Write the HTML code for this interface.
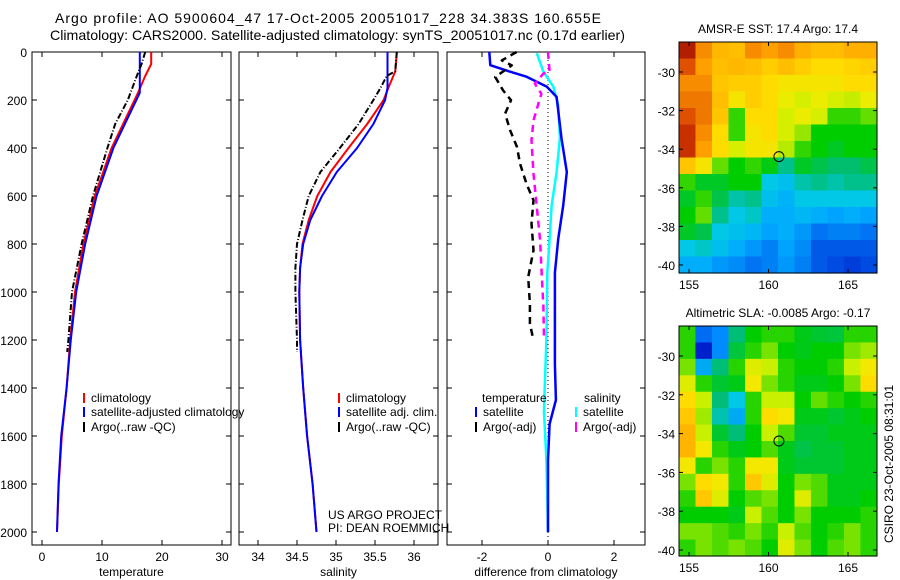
<!DOCTYPE html>
<html><head><meta charset="utf-8"><style>
body{margin:0;background:#fff;}
svg{display:block;font-family:"Liberation Sans",sans-serif;}
</style></head><body>
<svg id="fig" width="900" height="580" viewBox="0 0 900 580" xmlns="http://www.w3.org/2000/svg">
<text x="55" y="23" font-size="14" textLength="546" lengthAdjust="spacing">Argo profile: AO 5900604_47 17-Oct-2005 20051017_228 34.383S 160.655E</text>
<text x="50" y="40" font-size="14" textLength="575" lengthAdjust="spacingAndGlyphs">Climatology: CARS2000. Satellite-adjusted climatology: synTS_20051017.nc (0.17d earlier)</text>
<g id="g"></g>
</svg>
<script>
// ---------- data ----------
const tDepth=[0,50,100,170,400,600,800,1000,1200,1400,1600,1800,2000];
const tClim=[18.2,18.2,17.2,16.0,11.6,8.8,6.9,5.5,4.7,4.1,3.3,2.8,2.5];
const tSat=[16.3,16.3,16.3,16.3,11.9,9.1,7.2,5.7,4.8,4.1,3.2,2.75,2.5];
const aDepth=[0,50,100,200,300,400,500,600,800,1000,1200,1250];
const tArgo=[17.2,16.6,15.8,14.3,12.2,10.9,9.7,8.5,6.6,5.0,4.4,4.2];
const sDepth=[0,80,150,200,300,400,500,600,700,800,900,1000,1200,1400,1600,1800,2000];
const sClim=[35.78,35.76,35.67,35.61,35.40,35.16,34.93,34.76,34.65,34.57,34.54,34.53,34.54,34.58,34.63,34.70,34.75];
const sSat=[35.66,35.66,35.66,35.63,35.48,35.27,35.01,34.82,34.67,34.58,34.54,34.53,34.54,34.58,34.63,34.70,34.75];
const sArgoDepth=[0,80,100,150,200,300,400,500,600,700,800,900,1000,1200,1250];
const sArgo=[35.78,35.76,35.65,35.57,35.48,35.29,35.05,34.80,34.65,34.57,34.50,34.48,34.48,34.50,34.50];
const dtSatDepth=[0,55,82,103,144,187,360,500,640,780,920,1060,1300,1450,1550,1700,2000];
const dtSat=[-1.78,-1.75,-1.15,-0.65,-0.04,0.26,0.41,0.57,0.46,0.31,0.21,0.21,0.21,0.24,0.05,0.0,0.0];
const dsSatDepth=[5,82,144,222,361,500,640,780,920,1200,1400,1500,1700,2000];
const dsSat=[-0.34,-0.14,0.16,0.31,0.36,0.26,0.11,0.05,-0.02,-0.05,-0.1,-0.12,-0.05,0.0];
const dtArgoDepth=[0,35,56,104,160,201,257,326,396,465,549,618,715,826,938,1049,1132,1201];
const dtArgo=[-0.95,-1.4,-1.1,-1.6,-1.36,-1.12,-1.3,-1.15,-0.94,-0.85,-0.65,-0.44,-0.5,-0.44,-0.6,-0.55,-0.55,-0.44];
const dsArgoDepth=[0,82,90,132,174,215,285,368,507,646,785,924,1063,1201];
const dsArgo=[0.0,0.05,-0.14,-0.4,-0.2,-0.29,-0.44,-0.5,-0.44,-0.34,-0.24,-0.19,-0.14,-0.12];
const depthTicks=[0,200,400,600,800,1000,1200,1400,1600,1800,2000];
const tTicks=[0,10,20,30];
const sTicks=[34,34.5,35,35.5,36];
const sTickLabels=["34","34.5","35","35.5","36"];
const dTicks=[-2,0,2];
const lonTicks=[155,160,165];
const latTicks=[-30,-32,-34,-36,-38,-40];
const sstGrid=[
[0.95,0.82,0.77,0.76,0.82,0.80,0.82,0.78,0.76,0.76,0.78,0.78],
[0.88,0.80,0.76,0.77,0.76,0.74,0.76,0.74,0.72,0.72,0.73,0.74],
[0.82,0.82,0.75,0.74,0.74,0.72,0.70,0.70,0.70,0.70,0.72,0.72],
[0.84,0.84,0.76,0.70,0.74,0.72,0.68,0.66,0.68,0.66,0.65,0.68],
[0.88,0.84,0.75,0.58,0.72,0.72,0.66,0.68,0.66,0.58,0.58,0.60],
[0.92,0.82,0.72,0.58,0.70,0.72,0.66,0.62,0.56,0.56,0.56,0.56],
[0.92,0.80,0.72,0.66,0.70,0.70,0.64,0.58,0.56,0.54,0.56,0.56],
[0.75,0.70,0.60,0.56,0.58,0.55,0.48,0.54,0.52,0.50,0.50,0.52],
[0.58,0.54,0.54,0.56,0.56,0.42,0.40,0.46,0.48,0.46,0.48,0.48],
[0.54,0.58,0.52,0.46,0.48,0.40,0.37,0.42,0.42,0.42,0.42,0.42],
[0.56,0.60,0.48,0.42,0.44,0.36,0.36,0.38,0.36,0.34,0.36,0.34],
[0.54,0.52,0.42,0.40,0.38,0.34,0.36,0.32,0.26,0.28,0.28,0.26],
[0.42,0.44,0.40,0.36,0.32,0.28,0.34,0.30,0.22,0.22,0.22,0.22],
[0.36,0.36,0.32,0.30,0.26,0.28,0.32,0.28,0.22,0.20,0.18,0.20]];
const slaGrid=[
[0.62,0.25,0.30,0.50,0.60,0.62,0.62,0.58,0.56,0.55,0.62,0.62],
[0.62,0.12,0.30,0.55,0.62,0.66,0.60,0.58,0.60,0.60,0.66,0.68],
[0.66,0.35,0.50,0.62,0.72,0.70,0.62,0.60,0.60,0.62,0.70,0.74],
[0.72,0.62,0.56,0.58,0.74,0.66,0.62,0.58,0.58,0.60,0.66,0.76],
[0.76,0.70,0.50,0.40,0.62,0.70,0.70,0.60,0.65,0.62,0.60,0.62],
[0.78,0.68,0.45,0.35,0.62,0.76,0.74,0.58,0.58,0.56,0.58,0.60],
[0.80,0.70,0.56,0.50,0.60,0.70,0.64,0.56,0.56,0.58,0.58,0.58],
[0.80,0.74,0.62,0.58,0.60,0.64,0.58,0.54,0.56,0.56,0.58,0.58],
[0.74,0.62,0.66,0.62,0.74,0.74,0.58,0.56,0.56,0.56,0.58,0.58],
[0.66,0.76,0.74,0.62,0.78,0.72,0.60,0.66,0.64,0.58,0.58,0.58],
[0.62,0.78,0.72,0.60,0.64,0.66,0.60,0.72,0.64,0.58,0.58,0.60],
[0.60,0.60,0.60,0.58,0.70,0.64,0.60,0.66,0.60,0.60,0.60,0.62],
[0.66,0.66,0.64,0.62,0.66,0.62,0.70,0.64,0.60,0.62,0.66,0.62],
[0.62,0.66,0.64,0.66,0.64,0.60,0.72,0.66,0.60,0.64,0.66,0.62]];
const floatLon=160.655, floatLat=-34.383;

// ---------- helpers ----------
const NS="http://www.w3.org/2000/svg";
const G=document.getElementById('g');
function mk(tag,attrs,parent){const e=document.createElementNS(NS,tag);for(const k in attrs)e.setAttribute(k,attrs[k]);(parent||G).appendChild(e);return e;}
function lin(d0,d1,r0,r1){return v=>r0+(v-d0)*(r1-r0)/(d1-d0);}
const yD=lin(0,2000,52,532);

function panel(name,x0,x1,xs,ticks,labels,xlabel,showY){
  const r=mk('rect',{x:x0,y:52,width:x1-x0,height:493,fill:'none',stroke:'#000','stroke-width':1});
  
  
  depthTicks.forEach(d=>{
    mk('line',{x1:x0,x2:x0+5,y1:yD(d),y2:yD(d),stroke:'#000'});
    mk('line',{x1:x1-5,x2:x1,y1:yD(d),y2:yD(d),stroke:'#000'});
    if(showY){const t=mk('text',{x:x0-5,y:yD(d)+5,'font-size':12,'text-anchor':'end'});t.textContent=d;
      
      }
  });
  ticks.forEach((v,i)=>{
    const x=xs(v);
    mk('line',{x1:x,x2:x,y1:52,y2:57,stroke:'#000'});
    mk('line',{x1:x,x2:x,y1:540,y2:545,stroke:'#000'});
    const t=mk('text',{x:x,y:561,'font-size':12,'text-anchor':'middle'});t.textContent=labels[i];
    
    
  });
  const xl=mk('text',{x:(x0+x1)/2,y:576,'font-size':12,'text-anchor':'middle'});xl.textContent=xlabel;
  
  
}
function series(name,xs,vals,depths,color,w,dash){
  const pts=vals.map((v,i)=>xs(v).toFixed(1)+','+yD(depths[i]).toFixed(1)).join(' ');
  const p=mk('polyline',{points:pts,fill:'none',stroke:color,'stroke-width':w,'stroke-dasharray':dash||'none','stroke-linejoin':'round'});
  
  
}
function legend(x,y,color,label,name){
  mk('line',{x1:x,x2:x,y1:y-9,y2:y+1,stroke:color,'stroke-width':2});
  const t=mk('text',{x:x+7,y:y,'font-size':12});t.textContent=label;
  
  
}

// ---------- panel 1 temperature ----------
const xT=lin(0,10,42,102);
panel('temperature-panel',32,231,xT,tTicks,tTicks.map(String),'temperature',true);
series('temperature-climatology-line',xT,tClim,tDepth,'#f00',2);
series('temperature-satellite-adjusted-line',xT,tSat,tDepth,'#00f',2);
series('temperature-argo-line',xT,tArgo,aDepth,'#000',2,'6,2,1,2');
legend(84,402,'#f00','climatology','legend-climatology');
legend(84,416,'#00f','satellite-adjusted climatology','legend-satellite-adjusted');
legend(84,431,'#000','Argo(..raw -QC)','legend-argo');

// ---------- panel 2 salinity ----------
const xS=lin(34,35,258,336);
panel('salinity-panel',239,438,xS,sTicks,sTickLabels,'salinity',false);
series('salinity-climatology-line',xS,sClim,sDepth,'#f00',2);
series('salinity-satellite-adjusted-line',xS,sSat,sDepth,'#00f',2);
series('salinity-argo-line',xS,sArgo,sArgoDepth,'#000',2,'6,2,1,2');
legend(339,402,'#f00','climatology','legend-sal-climatology');
legend(339,416,'#00f','satellite adj. clim.','legend-sal-satellite');
legend(339,431,'#000','Argo(..raw -QC)','legend-sal-argo');
let t=mk('text',{x:328,y:519,'font-size':12});t.textContent='US ARGO PROJECT';


t=mk('text',{x:328,y:532,'font-size':12});t.textContent='PI: DEAN ROEMMICH';



// ---------- panel 3 differences ----------
const xDf=lin(0,2,548,614);
panel('difference-panel',447,645,xDf,dTicks,dTicks.map(String),'difference from climatology',false);
mk('line',{x1:xDf(0),x2:xDf(0),y1:52,y2:545,stroke:'#000','stroke-dasharray':'1,3'});
series('salinity-satellite-diff-line',xDf,dsSat,dsSatDepth,'#0ff',2.5);
series('temperature-satellite-diff-line',xDf,dtSat,dtSatDepth,'#00f',2.5);
series('temperature-argo-diff-line',xDf,dtArgo,dtArgoDepth,'#000',2.5,'7,5');
series('salinity-argo-diff-line',xDf,dsArgo,dsArgoDepth,'#f0f',2.5,'7,5');
t=mk('text',{x:482,y:402,'font-size':12});t.textContent='temperature';


t=mk('text',{x:584,y:402,'font-size':12});t.textContent='salinity';


legend(476,416,'#00f','satellite','legend-t-satellite');
legend(476,431,'#000','Argo(-adj)','legend-t-argo');
legend(576,416,'#0ff','satellite','legend-s-satellite');
legend(576,431,'#f0f','Argo(-adj)','legend-s-argo');

// ---------- maps ----------
const slaStops=[[0,[0,0,140]],[0.15,[0,40,220]],[0.3,[0,140,255]],[0.4,[0,200,230]],[0.5,[0,190,120]],[0.6,[0,205,0]],[0.7,[200,240,0]],[0.75,[255,230,0]],[0.82,[255,160,0]],[0.9,[215,60,0]],[1,[140,0,0]]];
const sstStops=[[0,[0,0,140]],[0.15,[0,40,210]],[0.25,[0,110,240]],[0.35,[0,170,255]],[0.42,[0,200,230]],[0.5,[0,190,110]],[0.56,[0,205,0]],[0.62,[150,230,0]],[0.67,[230,240,0]],[0.72,[255,220,0]],[0.8,[255,160,0]],[0.9,[215,60,0]],[1,[140,0,0]]];
function cmap(stops,v){for(let i=1;i<stops.length;i++){if(v<=stops[i][0]){const a=stops[i-1],b=stops[i],f=(v-a[0])/(b[0]-a[0]);return 'rgb('+a[1].map((c,k)=>Math.round(c+(b[1][k]-c)*f)).join(',')+')';}}return 'rgb(140,0,0)';}
function map(name,top,bottom,lat30,lat40,grid,stops,title){
  const xL=lin(155,165,689,848), yL=lin(-30,-40,lat30,lat40);
  const lon0=154.37,lon1=166.82,la0=-30+(lat30-top)/(lat40-lat30)*10,la1=-40-(bottom-lat40)/(lat40-lat30)*10;
  const nr=grid.length,nc=grid[0].length;
  const mg=mk('g',{});
  
  
  grid.forEach((row,r)=>row.forEach((v,c)=>{
    const lo=lon0+(lon1-lon0)*c/nc, lo2=lon0+(lon1-lon0)*(c+1)/nc;
    const a=la0+(la1-la0)*r/nr, a2=la0+(la1-la0)*(r+1)/nr;
    const cell=mk('rect',{x:xL(lo),y:yL(a),width:xL(lo2)-xL(lo)+0.6,height:yL(a2)-yL(a)+0.6,fill:cmap(stops,v)},mg);
    
    
  }));
  const fr=mk('rect',{x:679,y:top,width:198,height:bottom-top,fill:'none',stroke:'#000'});
  
  
  lonTicks.forEach(l=>{const x=xL(l);mk('line',{x1:x,x2:x,y1:top,y2:top+4,stroke:'#000'});mk('line',{x1:x,x2:x,y1:bottom-4,y2:bottom,stroke:'#000'});
    const tt=mk('text',{x:x,y:bottom+16,'font-size':12,'text-anchor':'middle'});tt.textContent=l;
    
    });
  latTicks.forEach(l=>{const y=yL(l);mk('line',{x1:679,x2:683,y1:y,y2:y,stroke:'#000'});mk('line',{x1:873,x2:877,y1:y,y2:y,stroke:'#000'});
    const tt=mk('text',{x:675,y:y+5,'font-size':12,'text-anchor':'end'});tt.textContent=l;
    
    });
  const ci=mk('circle',{cx:xL(floatLon),cy:yL(floatLat),r:5,fill:'none',stroke:'#000','stroke-width':1});
  
  
  const tl=mk('text',{x:778,y:top-9,'font-size':12,'text-anchor':'middle'});tl.textContent=title;
  
  
}
map('sst-map',42,273,72,265,sstGrid,sstStops,'AMSR-E SST: 17.4 Argo: 17.4');
map('sla-map',326,556,356,550,slaGrid,slaStops,'Altimetric SLA: -0.0085 Argo: -0.17');
t=mk('text',{x:0,y:0,'font-size':12,'text-anchor':'middle',transform:'translate(893,464) rotate(-90)'});t.textContent='CSIRO 23-Oct-2005 08:31:01';


</script>
</body></html>
